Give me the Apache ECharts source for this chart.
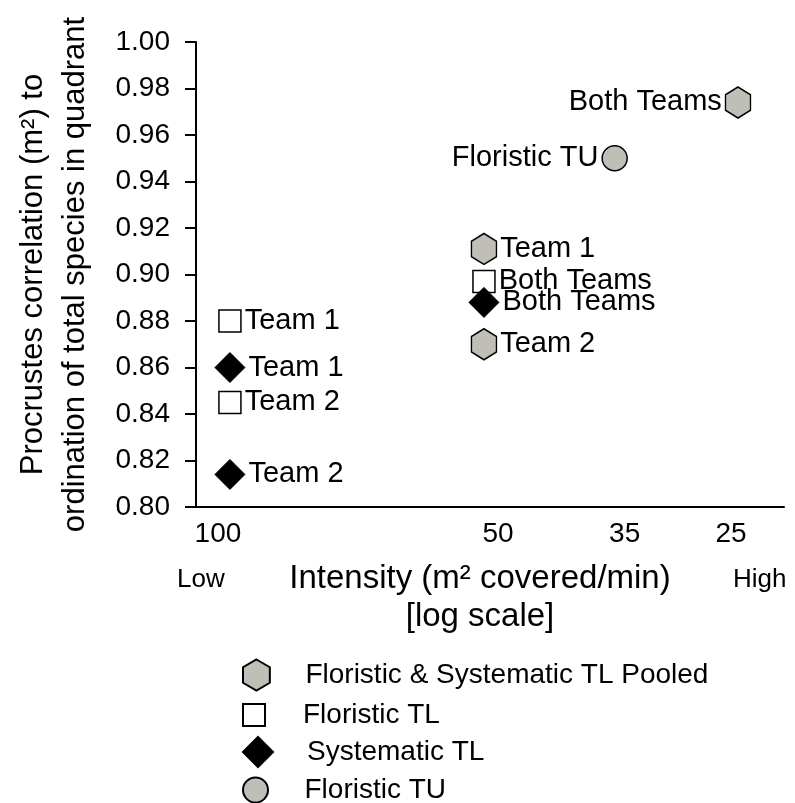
<!DOCTYPE html>
<html><head><meta charset="utf-8">
<script src="https://cdn.jsdelivr.net/npm/echarts@6/dist/echarts.min.js"></script>
<style>html,body{margin:0;padding:0;background:#fff}#c{width:795px;height:803px}</style>
</head><body><div id="c"></div>
<script>
// ---- data ----
const xTickValues = [100, 50, 35, 25];
const yMin = 0.80, yMax = 1.00, yInterval = 0.02;

const seriesNames = ['Floristic & Systematic TL Pooled', 'Floristic TL', 'Systematic TL', 'Floristic TU'];

const pooledX = [25, 50, 50];
const pooledY = [0.974, 0.911, 0.870];
const pooledLabels = ['Both Teams', 'Team 1', 'Team 2'];
const pooledLabelSide = ['left', 'right', 'right'];

const floristicTLX = [50, 100, 100];
const floristicTLY = [0.897, 0.880, 0.845];
const floristicTLLabels = ['Both Teams', 'Team 1', 'Team 2'];
const floristicTLLabelSide = ['right', 'right', 'right'];

const systematicTLX = [50, 100, 100];
const systematicTLY = [0.888, 0.860, 0.814];
const systematicTLLabels = ['Both Teams', 'Team 1', 'Team 2'];
const systematicTLLabelSide = ['right', 'right', 'right'];

const floristicTUX = [35];
const floristicTUY = [0.950];
const floristicTULabels = ['Floristic TU'];
const floristicTULabelSide = ['left'];

// ---- styling ----
const FONT = '"Liberation Sans", Arial, Helvetica, sans-serif';
const GRAY = '#bfbfb7';
const HEX = 'path://M0,-1L0.866,-0.5L0.866,0.5L0,1L-0.866,0.5L-0.866,-0.5Z';
const SQUARE = 'path://M0,0L1,0L1,1L0,1Z';
const DIAMOND = 'path://M0,-1L1,0L0,1L-1,0Z';
const CIRCLE = 'path://M1,0A1,1,0,1,1,-1,0A1,1,0,1,1,1,0Z';
// horizontal nudges of the x tick labels (the original's labels sit slightly off their ticks)
const xLabelPad = { 100: [0, 24, 0, 0], 50: [0, 0, 0, 28], 35: [0, 0, 0, 20], 25: [0, 14, 0, 0] };

function buildData(xs, ys, labels, sides) {
  return xs.map((x, i) => ({
    value: [x, ys[i]],
    name: labels[i],
    label: { position: sides[i] }
  }));
}

const labelStyle = {
  show: true,
  formatter: p => p.name,
  fontSize: 29,
  fontFamily: FONT,
  color: '#000',
  distance: 3
};

const xRich = {};
Object.keys(xLabelPad).forEach(k => {
  xRich['t' + k] = { fontSize: 28, fontFamily: FONT, color: '#000', padding: xLabelPad[k] };
});

const legendRows = [675, 715, 752, 790];
const legendIcons = [HEX, SQUARE, DIAMOND, CIRCLE];
const legendIconH = [31, 22, 30, 25];

const chart = echarts.init(document.getElementById('c'), null, { renderer: 'canvas' });
chart.setOption({
  backgroundColor: '#fff',
  animation: false,
  textStyle: { fontFamily: FONT, color: '#000' },
  grid: { left: 196, right: 11, top: 42, bottom: 296, containLabel: false, outerBoundsMode: 'none' },
  xAxis: {
    type: 'log',
    logBase: 10,
    inverse: true,
    min: 22.05,
    max: 109.7,
    axisLine: { show: true, lineStyle: { color: '#000', width: 2 } },
    axisTick: { show: false },
    splitLine: { show: false },
    minorTick: { show: false },
    axisLabel: {
      customValues: xTickValues,
      formatter: v => { const r = Math.round(v); return '{t' + r + '|' + r + '}'; },
      rich: xRich,
      fontSize: 28, fontFamily: FONT, color: '#000', margin: 13
    },
    name: 'Intensity (m\u00b2 covered/min)\n[log scale]',
    nameLocation: 'middle',
    nameGap: 53,
    nameTextStyle: { fontSize: 33, fontFamily: FONT, color: '#000', lineHeight: 38, padding: [0, 20, 0, 0] }
  },
  yAxis: {
    type: 'value',
    min: yMin, max: yMax, interval: yInterval,
    axisLine: { show: true, lineStyle: { color: '#000', width: 2 } },
    axisTick: { show: true, inside: false, length: 11, lineStyle: { color: '#000', width: 2 } },
    splitLine: { show: false },
    axisLabel: {
      formatter: v => v.toFixed(2),
      fontSize: 28, fontFamily: FONT, color: '#000', margin: 26
    },
    name: 'Procrustes correlation (m\u00b2) to\nordination of total species in quadrant',
    nameLocation: 'middle',
    nameRotate: 90,
    nameGap: 100,
    nameTextStyle: { fontSize: 31, fontFamily: FONT, color: '#000', lineHeight: 42 }
  },
  legend: seriesNames.map((n, i) => ({
    data: [{ name: n, icon: legendIcons[i] }],
    orient: 'vertical',
    left: 242,
    top: legendRows[i] - 17,
    padding: 0,
    itemWidth: 30,
    itemHeight: legendIconH[i],
    symbolKeepAspect: true,
    selectedMode: false,
    textStyle: { fontSize: 28, fontFamily: FONT, color: '#000', lineHeight: 34, padding: [0, 0, 0, 29] }
  })),
  graphic: [
    { type: 'text', left: 177, top: 567, style: { text: 'Low', fontSize: 26, fontFamily: FONT, fill: '#000' } },
    { type: 'text', left: 733, top: 567, style: { text: 'High', fontSize: 26, fontFamily: FONT, fill: '#000' } }
  ],
  series: [
    {
      name: seriesNames[0], type: 'scatter',
      symbol: HEX, symbolSize: [25, 31],
      itemStyle: { color: GRAY, borderColor: '#000', borderWidth: 1.5, opacity: 1 },
      label: labelStyle,
      data: buildData(pooledX, pooledY, pooledLabels, pooledLabelSide),
      z: 2
    },
    {
      name: seriesNames[1], type: 'scatter',
      symbol: 'rect', symbolSize: [22, 22],
      itemStyle: { color: '#fff', borderColor: '#000', borderWidth: 1.5, opacity: 1 },
      label: labelStyle,
      data: buildData(floristicTLX, floristicTLY, floristicTLLabels, floristicTLLabelSide),
      z: 3
    },
    {
      name: seriesNames[2], type: 'scatter',
      symbol: 'diamond', symbolSize: [30, 30],
      itemStyle: { color: '#000', borderColor: '#000', borderWidth: 1, opacity: 1 },
      label: labelStyle,
      data: buildData(systematicTLX, systematicTLY, systematicTLLabels, systematicTLLabelSide),
      z: 4
    },
    {
      name: seriesNames[3], type: 'scatter',
      symbol: 'circle', symbolSize: 25,
      itemStyle: { color: GRAY, borderColor: '#000', borderWidth: 1.5, opacity: 1 },
      label: labelStyle,
      data: buildData(floristicTUX, floristicTUY, floristicTULabels, floristicTULabelSide),
      z: 2
    }
  ]
});
</script>
</body></html>
